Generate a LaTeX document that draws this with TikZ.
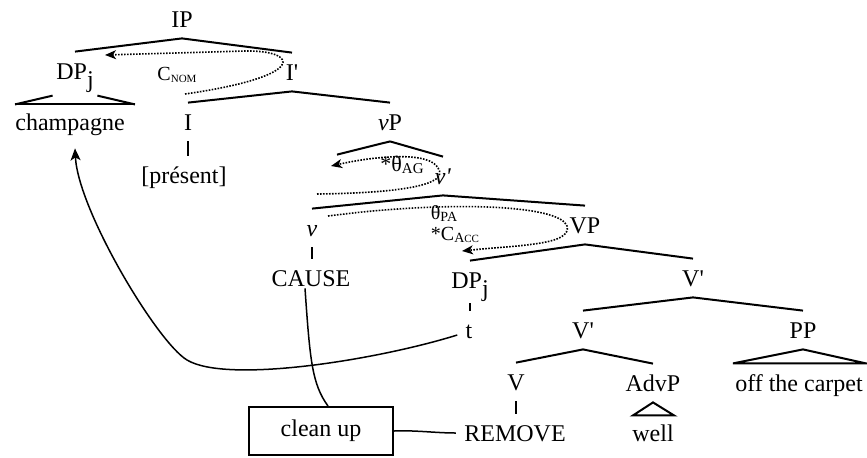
\documentclass[tikz,border=0pt]{standalone}
\usepackage{fontspec}
\setmainfont{Liberation Serif}
\usepackage{tikz}
\usetikzlibrary{arrows.meta,calc}

\newcommand{\lsub}[2][7]{\raisebox{-1pt}{\fontsize{#1}{#1}\selectfont #2}}
\newcommand{\prm}{\textquotesingle}

\begin{document}
\begin{tikzpicture}[x=0.5pt,y=-0.5pt,font=\fontsize{12}{14}\selectfont,
  lab/.style={inner sep=0pt,minimum height=19pt,text height=9pt,text depth=1pt},
  note/.style={inner sep=0.5pt},
  branch/.style={line width=1pt},
  move/.style={line width=0.75pt},
  chain/.style={line width=0.8pt,dash pattern=on 0.8pt off 0.7pt,-{Stealth[length=5.5pt,width=4.5pt,inset=1.5pt]}},
  boxed/.style={draw,line width=1pt,inner sep=0pt,minimum width=72pt,minimum height=24pt}]
\useasboundingbox (0,0) rectangle (867,457);
% --- upper part: IP, I', vP ---
\node[lab] (IP) at (182,19) {IP};
\node[lab] (DPj) at (75,71) {DP\raisebox{-4pt}{j}};
\node[lab] (Ibar) at (292,72) {I\prm};
\node[lab] (champ) at (70,122) {champagne};
\node[lab] (I) at (188,122) {I};
\node[lab] (pres) at (184,175) {[présent]};
\node[lab] (vP) at (390,122) {\textit{v}P};
\node[lab] (spec) at (337,174) {};
\node[lab] (vbar) at (443,176) {\textit{v\prm}};
\node[lab] (v) at (312,228) {\textit{v}};
\node[lab] (VP) at (585,225) {VP};
% --- lower part: VP shell ---
\node[lab] (CAUSE) at (311,278) {CAUSE};
\node[lab] (DPj2) at (470,280) {DP\raisebox{-4pt}{j}};
\node[lab] (t) at (469,330) {t};
\node[lab] (Vbar1) at (693,278) {V\prm};
\node[lab] (Vbar2) at (583,330) {V\prm};
\node[lab] (PP) at (803,330) {PP};
\node[lab] (V) at (516,382) {V};
\node[lab] (AdvP) at (653,383) {AdvP};
\node[lab] (carpet) at (799,383) {off the carpet};
\node[lab] (REMOVE) at (515,433) {REMOVE};
\node[lab] (well) at (653,433) {well};
\node[boxed] (box) at (321,431) {clean up};
% theta / case labels
\node[note] (CNOM) at (177,75) {{\fontsize{10}{12}\selectfont C}\lsub[5.5]{NOM}};
\node[note] (thAG) at (402,165) {{\fontsize{11}{12}\selectfont *θ}\lsub[7.5]{AG}};
\node[note] (thPA) at (444,213) {{\fontsize{10}{12}\selectfont θ}\lsub{PA}};
\node[note] (CACC) at (455,235) {{\fontsize{10}{12}\selectfont *C}\lsub{A}\lsub[5.5]{CC}};
% --- branches ---
\foreach \p/\c in {IP/DPj,IP/Ibar,Ibar/I,Ibar/vP,vP/spec,vP/vbar,vbar/v,vbar/VP,
                   VP/DPj2,VP/Vbar1,Vbar1/Vbar2,Vbar1/PP,Vbar2/V,Vbar2/AdvP}
  \draw[branch] (\p.south) -- (\c.north);
\foreach \a/\b in {I/pres,v/CAUSE,V/REMOVE}
  \draw[branch] (\a.south) -- (\a.south |- \b.north);
\draw[branch,shorten <=2pt] (DPj2.south) -- (DPj2.south |- t.north);
% triangles
\draw[branch,shorten <=11.5pt] (DPj.south) -- ([shift={(-30pt,-7pt)}]DPj.south);
\draw[branch,shorten <=11.5pt] (DPj.south) -- ([shift={(30pt,-7pt)}]DPj.south);
\draw[branch] ([shift={(-30pt,-7pt)}]DPj.south) -- ([shift={(30pt,-7pt)}]DPj.south);
\draw[branch] (PP.south) -- ([shift={(-35pt,-7pt)}]PP.south) -- ([shift={(31.5pt,-7pt)}]PP.south) -- cycle;
\draw[branch] (AdvP.south) -- ([shift={(-10pt,-6.5pt)}]AdvP.south) -- ([shift={(10.5pt,-6.5pt)}]AdvP.south) -- cycle;
% --- dotted checking loops ---
\coordinate (nomS) at (185,94);  \coordinate (nomE) at (105,55);
\coordinate (agS) at (317,194);  \coordinate (agE) at (331,166);
\coordinate (paS) at (328,216);  \coordinate (paE) at (462,251);
\draw[chain] (nomS) .. controls (310,76) and (298,50) .. (245,51) -- (nomE);
\draw[chain] (agS) .. controls (400,193) and (450,185) .. (438,168) .. controls (430,152) and (380,155) .. (agE);
\draw[chain] (paS) .. controls (450,200) and (560,205) .. (567,226) .. controls (572,245) and (520,245) .. (paE);
% --- movement and lexical links ---
\draw[move,-{Stealth[length=6pt,width=5pt,inset=1.5pt]}] ([shift={(-4pt,-2.5pt)}]t.west)
  .. controls (377,360) and (227,384) .. (187,360) .. controls (157,342) and (78,210) .. ([shift={(2.5pt,-3.5pt)}]champ.south);
\draw[move] ([shift={(-3pt,4.5pt)}]CAUSE.south) .. controls +(5,72) and +(-16,-22) .. ([xshift=3.5pt]box.north);
\draw[move] (box.east) .. controls +(20,-1) and +(-20,0) .. ([xshift=-4pt]REMOVE.west);
\end{tikzpicture}
\end{document}
